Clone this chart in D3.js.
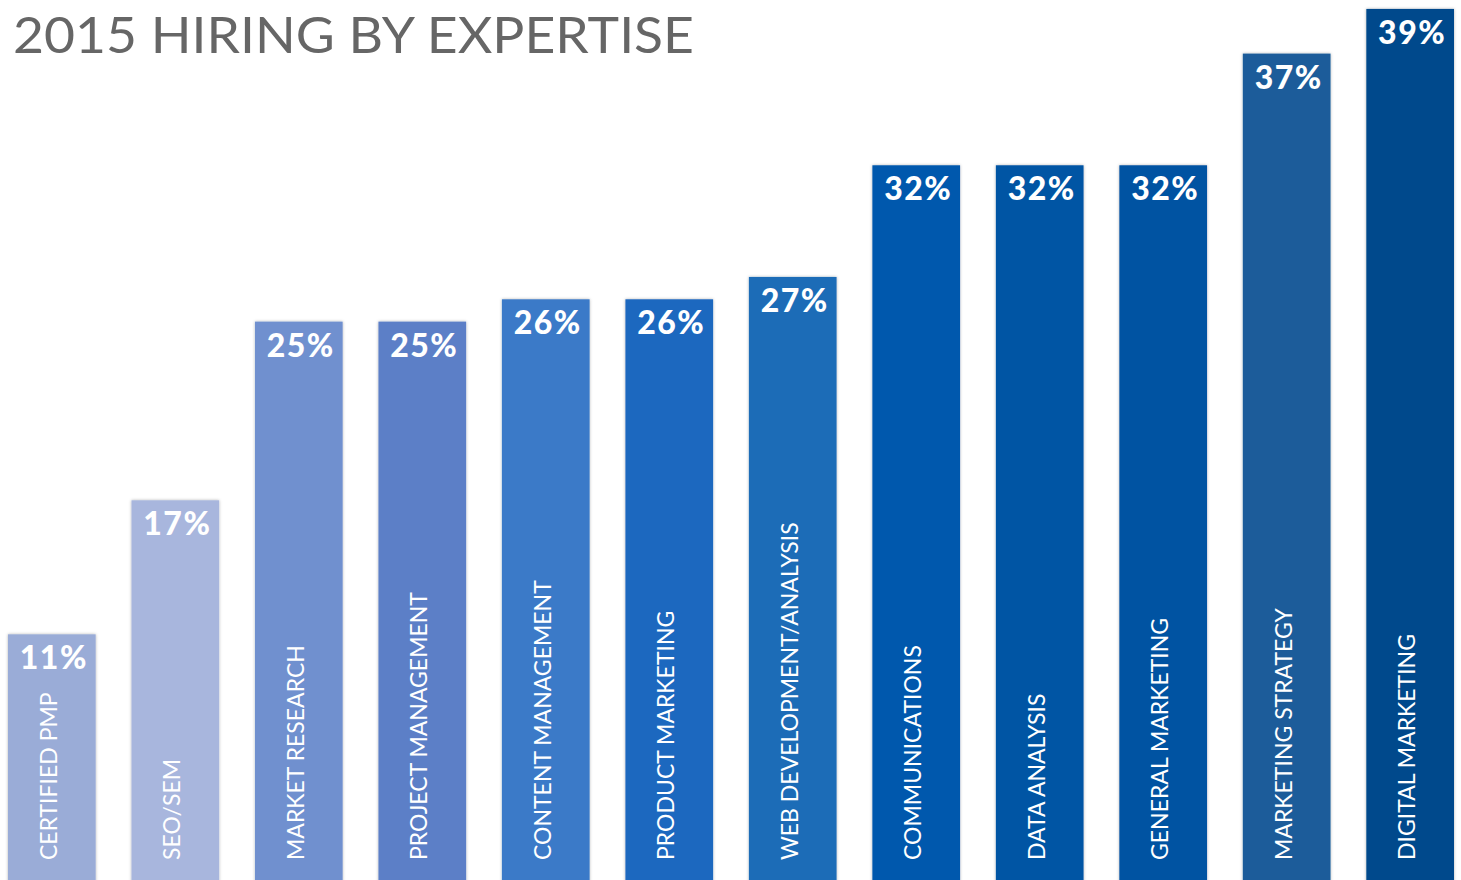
<!DOCTYPE html>
<html>
<head>
<meta charset="utf-8">
<script src="https://cdn.jsdelivr.net/npm/d3@7"></script>
<style>
  html, body { margin: 0; padding: 0; background: #fff; overflow: hidden; }
  svg { display: block; }
</style>
</head>
<body>
<svg id="chart" width="1461" height="880"></svg>
<script>
const titleText = "2015 HIRING BY EXPERTISE";
const categories = [
  "CERTIFIED PMP", "SEO/SEM", "MARKET RESEARCH", "PROJECT MANAGEMENT",
  "CONTENT MANAGEMENT", "PRODUCT MARKETING", "WEB DEVELOPMENT/ANALYSIS",
  "COMMUNICATIONS", "DATA ANALYSIS", "GENERAL MARKETING",
  "MARKETING STRATEGY", "DIGITAL MARKETING"
];
const values = [11, 17, 25, 25, 26, 26, 27, 32, 32, 32, 37, 39];
const barColors = [
  "#9aacd7", "#a8b6dd", "#6f90cf", "#5b7fc7", "#3a7ac8", "#1f67bf",
  "#1c6cb7", "#0559ad", "#0454a4", "#0352a2", "#1a5b9a", "#064a8c"
];

const W = 1461, H = 880;
const svg = d3.select("#chart");

const defs = svg.append("defs");
const f = defs.append("filter").attr("id", "shadow")
  .attr("x", "-10%").attr("y", "-5%").attr("width", "120%").attr("height", "110%");
f.append("feDropShadow").attr("dx", 0).attr("dy", 0).attr("stdDeviation", 1.8)
  .attr("flood-color", "#000").attr("flood-opacity", 0.3);

const x = d3.scaleBand().domain(categories).range([8, 1454]).paddingInner(0.29).paddingOuter(0);
const y = d3.scaleLinear().domain([0, 39.4]).range([H, 0]);

const data = categories.map((c, i) => ({ cat: c, v: values[i], color: barColors[i] }));

const g = svg.append("g");

g.selectAll("rect.bar").data(data).join("rect")
  .attr("class", "bar")
  .attr("x", d => x(d.cat))
  .attr("y", d => y(d.v))
  .attr("width", x.bandwidth())
  .attr("height", d => H - y(d.v) + 10)
  .attr("fill", d => d.color)
  .attr("filter", "url(#shadow)");

// value labels
g.selectAll("text.val").data(data).join("text")
  .attr("class", "val")
  .attr("x", d => x(d.cat) + x.bandwidth() / 2 + 2)
  .attr("y", d => y(d.v) + 35)
  .attr("text-anchor", "middle")
  .attr("fill", "#fff")
  .style("font-family", "Lato, 'Open Sans', sans-serif")
  .style("font-weight", 900)
  .style("font-size", "32px")
  .style("letter-spacing", "1.5px")
  .text(d => d.v + "%");

// category labels (rotated)
g.selectAll("text.cat").data(data).join("text")
  .attr("class", "cat")
  .attr("transform", d => `translate(${x(d.cat) + x.bandwidth() / 2 + 5},860) rotate(-90)`)
  .attr("text-anchor", "start")
  .attr("fill", "#fff")
  .style("font-family", "Lato, 'Open Sans', sans-serif")
  .style("font-weight", 400)
  .style("font-size", "23px")
  .text(d => d.cat);

// title
svg.append("text")
  .attr("x", 13)
  .attr("y", 53)
  .attr("fill", "#666")
  .style("font-family", "Lato, 'Open Sans', sans-serif")
  .style("font-weight", 400)
  .style("font-size", "51px")
  .attr("textLength", 681)
  .attr("lengthAdjust", "spacingAndGlyphs")
  .text(titleText);
</script>
</body>
</html>
